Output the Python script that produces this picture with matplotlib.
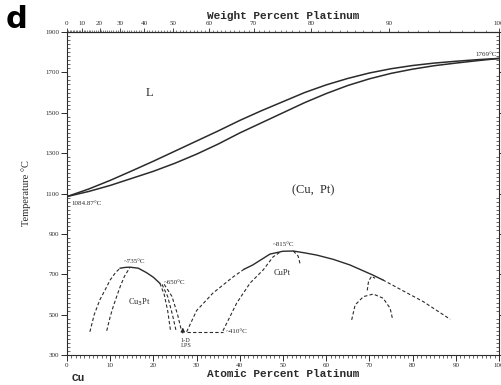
import numpy as np
import matplotlib
matplotlib.use("Agg")
import matplotlib.pyplot as plt
from matplotlib.ticker import MultipleLocator

# liquidus / solidus (atomic % Pt, deg C)
liq_at = [0, 5, 10, 15, 20, 25, 30, 35, 40, 45, 50, 55, 60, 65, 70, 75, 80, 85, 90, 95, 100]
liq_T = [1084.87, 1122, 1165, 1212, 1260, 1310, 1360, 1410, 1462, 1510, 1555, 1600, 1638, 1670,
         1697, 1718, 1734, 1746, 1755, 1763, 1769]
sol_at = liq_at
sol_T = [1084.87, 1110, 1140, 1175, 1210, 1250, 1295, 1345, 1400, 1450, 1500, 1550, 1595, 1635,
         1668, 1695, 1716, 1733, 1746, 1758, 1769]

# Cu3Pt ordering
cu3pt_solid_at = [12.3, 13.5, 14.6, 16.5, 18.4, 20.0, 21.5]
cu3pt_solid_T = [730, 734, 735, 730, 708, 685, 655]
cu3pt_outer_at = [5.3, 6.3, 7.6, 9.0, 10.0, 11.3, 12.3]
cu3pt_outer_T = [415, 500, 573, 630, 672, 710, 730]
cu3pt_inner_at = [9.2, 10.0, 10.7, 11.5, 12.3, 13.3, 14.2, 14.6]
cu3pt_inner_T = [420, 490, 540, 590, 638, 690, 721, 735]
cu3pt_r1_at = [21.5, 22.5, 23.3, 24.0]
cu3pt_r1_T = [655, 600, 520, 415]
cu3pt_r2_at = [22.0, 23.3, 24.4, 25.3]
cu3pt_r2_T = [650, 590, 500, 415]
cu3pt_r3_at = [22.5, 24.3, 25.6, 26.5]
cu3pt_r3_T = [650, 590, 500, 420]

# CuPt ordering
cupt_left_at = [27.7, 30.0, 33.8, 38.4, 41.0]
cupt_left_T = [415, 520, 607, 686, 725]
cupt_solid_at = [41.0, 43.0, 47.0, 50.0, 52.4, 55.0, 57.8, 61.6, 65.5, 70.8, 73.1]
cupt_solid_T = [725, 746, 800, 814, 815, 806, 795, 774, 746, 696, 672]
cupt_tail_at = [73.1, 77.1, 82.5, 88.7]
cupt_tail_T = [672, 626, 564, 477]
cupt_inner_at = [36.1, 39.3, 42.4, 45.4, 47.7, 49.5]
cupt_inner_T = [420, 558, 657, 721, 786, 812]
cupt_rleg_at = [52.4, 53.5, 54.0]
cupt_rleg_T = [815, 790, 748]
eut_at = [27.7, 36.1]
eut_T = [415, 415]

# feature near 70 at.%
hook_at = [69.5, 69.8, 70.5, 71.3]
hook_T = [620, 665, 690, 680]
dome_at = [65.9, 66.7, 68.6, 70.9, 73.2, 74.8, 75.4]
dome_T = [474, 548, 589, 602, 581, 531, 474]

at_ticks = list(range(0, 101, 10))
wt_ticks = list(range(0, 101, 10))
T_ticks = [300, 500, 700, 900, 1100, 1300, 1500, 1700, 1900]

M_PT, M_CU = 195.08, 63.546


def wt2at(w):
    w = np.clip(np.asarray(w, dtype=float), 0, 100)
    a = w / M_PT
    b = (100 - w) / M_CU
    return 100 * a / np.where(a + b == 0, 1, a + b)


def at2wt(x):
    x = np.clip(np.asarray(x, dtype=float), 0, 100)
    a = x * M_PT
    b = (100 - x) * M_CU
    return 100 * a / np.where(a + b == 0, 1, a + b)


plt.rcParams['font.family'] = ['Liberation Serif', 'DejaVu Serif']
ink = '#2b2b2b'

fig = plt.figure(figsize=(5.02, 3.85), dpi=100)
ax = fig.add_axes([67 / 502, 30 / 385, 432 / 502, 323 / 385])

ax.plot(liq_at, liq_T, color=ink, lw=1.1)
ax.plot(sol_at, sol_T, color=ink, lw=1.1)

solid_kw = dict(color=ink, lw=1.0)
dash_kw = dict(color=ink, lw=0.8, ls=(0, (3, 2)))
ax.plot(cu3pt_solid_at, cu3pt_solid_T, **solid_kw)
ax.plot(cupt_solid_at, cupt_solid_T, **solid_kw)
for xs, ys in [(cu3pt_outer_at, cu3pt_outer_T), (cu3pt_inner_at, cu3pt_inner_T),
               (cu3pt_r1_at, cu3pt_r1_T), (cu3pt_r2_at, cu3pt_r2_T), (cu3pt_r3_at, cu3pt_r3_T),
               (cupt_left_at, cupt_left_T), (cupt_tail_at, cupt_tail_T),
               (cupt_inner_at, cupt_inner_T), (cupt_rleg_at, cupt_rleg_T), (eut_at, eut_T),
               (hook_at, hook_T), (dome_at, dome_T)]:
    ax.plot(xs, ys, **dash_kw)

ax.annotate('', xy=(26.8, 450), xytext=(26.8, 395),
            arrowprops=dict(arrowstyle='-|>', color=ink, lw=0.8, mutation_scale=6))

ax.set_xlim(0, 100)
ax.set_ylim(300, 1900)
ax.set_xticks(at_ticks)
ax.set_yticks(T_ticks)
ax.xaxis.set_minor_locator(MultipleLocator(1))
ax.yaxis.set_minor_locator(MultipleLocator(20))
ax.tick_params(axis='both', which='major', direction='out', length=4, width=0.7,
               labelsize=5, colors=ink, pad=1.5)
ax.tick_params(axis='both', which='minor', direction='out', length=2, width=0.5, colors=ink)
ax.tick_params(axis='y', which='both', right=True)
ax.tick_params(axis='y', which='both', direction='in')
ax.tick_params(axis='y', which='major', left=True, direction='out')
for s in ax.spines.values():
    s.set_linewidth(0.8)
    s.set_color(ink)

top = ax.secondary_xaxis('top', functions=(at2wt, wt2at))
top.set_xticks(wt_ticks)
top.xaxis.set_minor_locator(MultipleLocator(1))
top.tick_params(which='major', direction='out', length=3, width=0.6, labelsize=5, colors=ink, pad=1)
top.tick_params(which='minor', direction='out', length=1.5, width=0.4, colors=ink)
top.spines['top'].set_linewidth(0.8)

mono = ['Liberation Mono', 'DejaVu Sans Mono']
ax.set_xlabel('Atomic Percent Platinum', family=mono, fontsize=8, fontweight='bold',
              color=ink, labelpad=1)
top.set_xlabel('Weight Percent Platinum', family=mono, fontsize=8, fontweight='bold',
               color=ink, labelpad=2)
ax.set_ylabel('Temperature \u00b0C', fontsize=7.5, color=ink, labelpad=10)
fig.text(72 / 502, 1 - 378 / 385, 'Cu', family=mono, fontsize=8, fontweight='bold',
         color=ink, va='center')

fig.text(6 / 502, 1 - 19 / 385, 'd', family=['DejaVu Sans'], fontsize=22, fontweight='bold',
         color='black', va='center')

ax.text(19, 1598, 'L', fontsize=9, color=ink, ha='center', va='center')
ax.text(57, 1117, '(Cu,  Pt)', fontsize=9, color=ink, ha='center', va='center')
ax.text(16.7, 563, 'Cu$_3$Pt', fontsize=6, color=ink, ha='center', va='center')
ax.text(49.8, 706, 'CuPt', fontsize=6, color=ink, ha='center', va='center')
ax.text(15.7, 762, '~735\u00b0C', fontsize=5, color=ink, ha='center', va='center')
ax.text(22.4, 657, '~650\u00b0C', fontsize=5, color=ink, ha='left', va='center')
ax.text(36.8, 418, '~410\u00b0C', fontsize=5, color=ink, ha='left', va='center')
ax.text(50.2, 845, '~815\u00b0C', fontsize=5, color=ink, ha='center', va='center')
ax.text(27.5, 360, '1-D\nLPS', fontsize=4.5, color=ink, ha='center', va='center', linespacing=0.9)
ax.text(1.0, 1050, '1084.87\u00b0C', fontsize=5, color=ink, ha='left', va='center')
ax.text(99.5, 1791, '1769\u00b0C', fontsize=5, color=ink, ha='right', va='center')

fig.savefig('out.png', dpi=100)
